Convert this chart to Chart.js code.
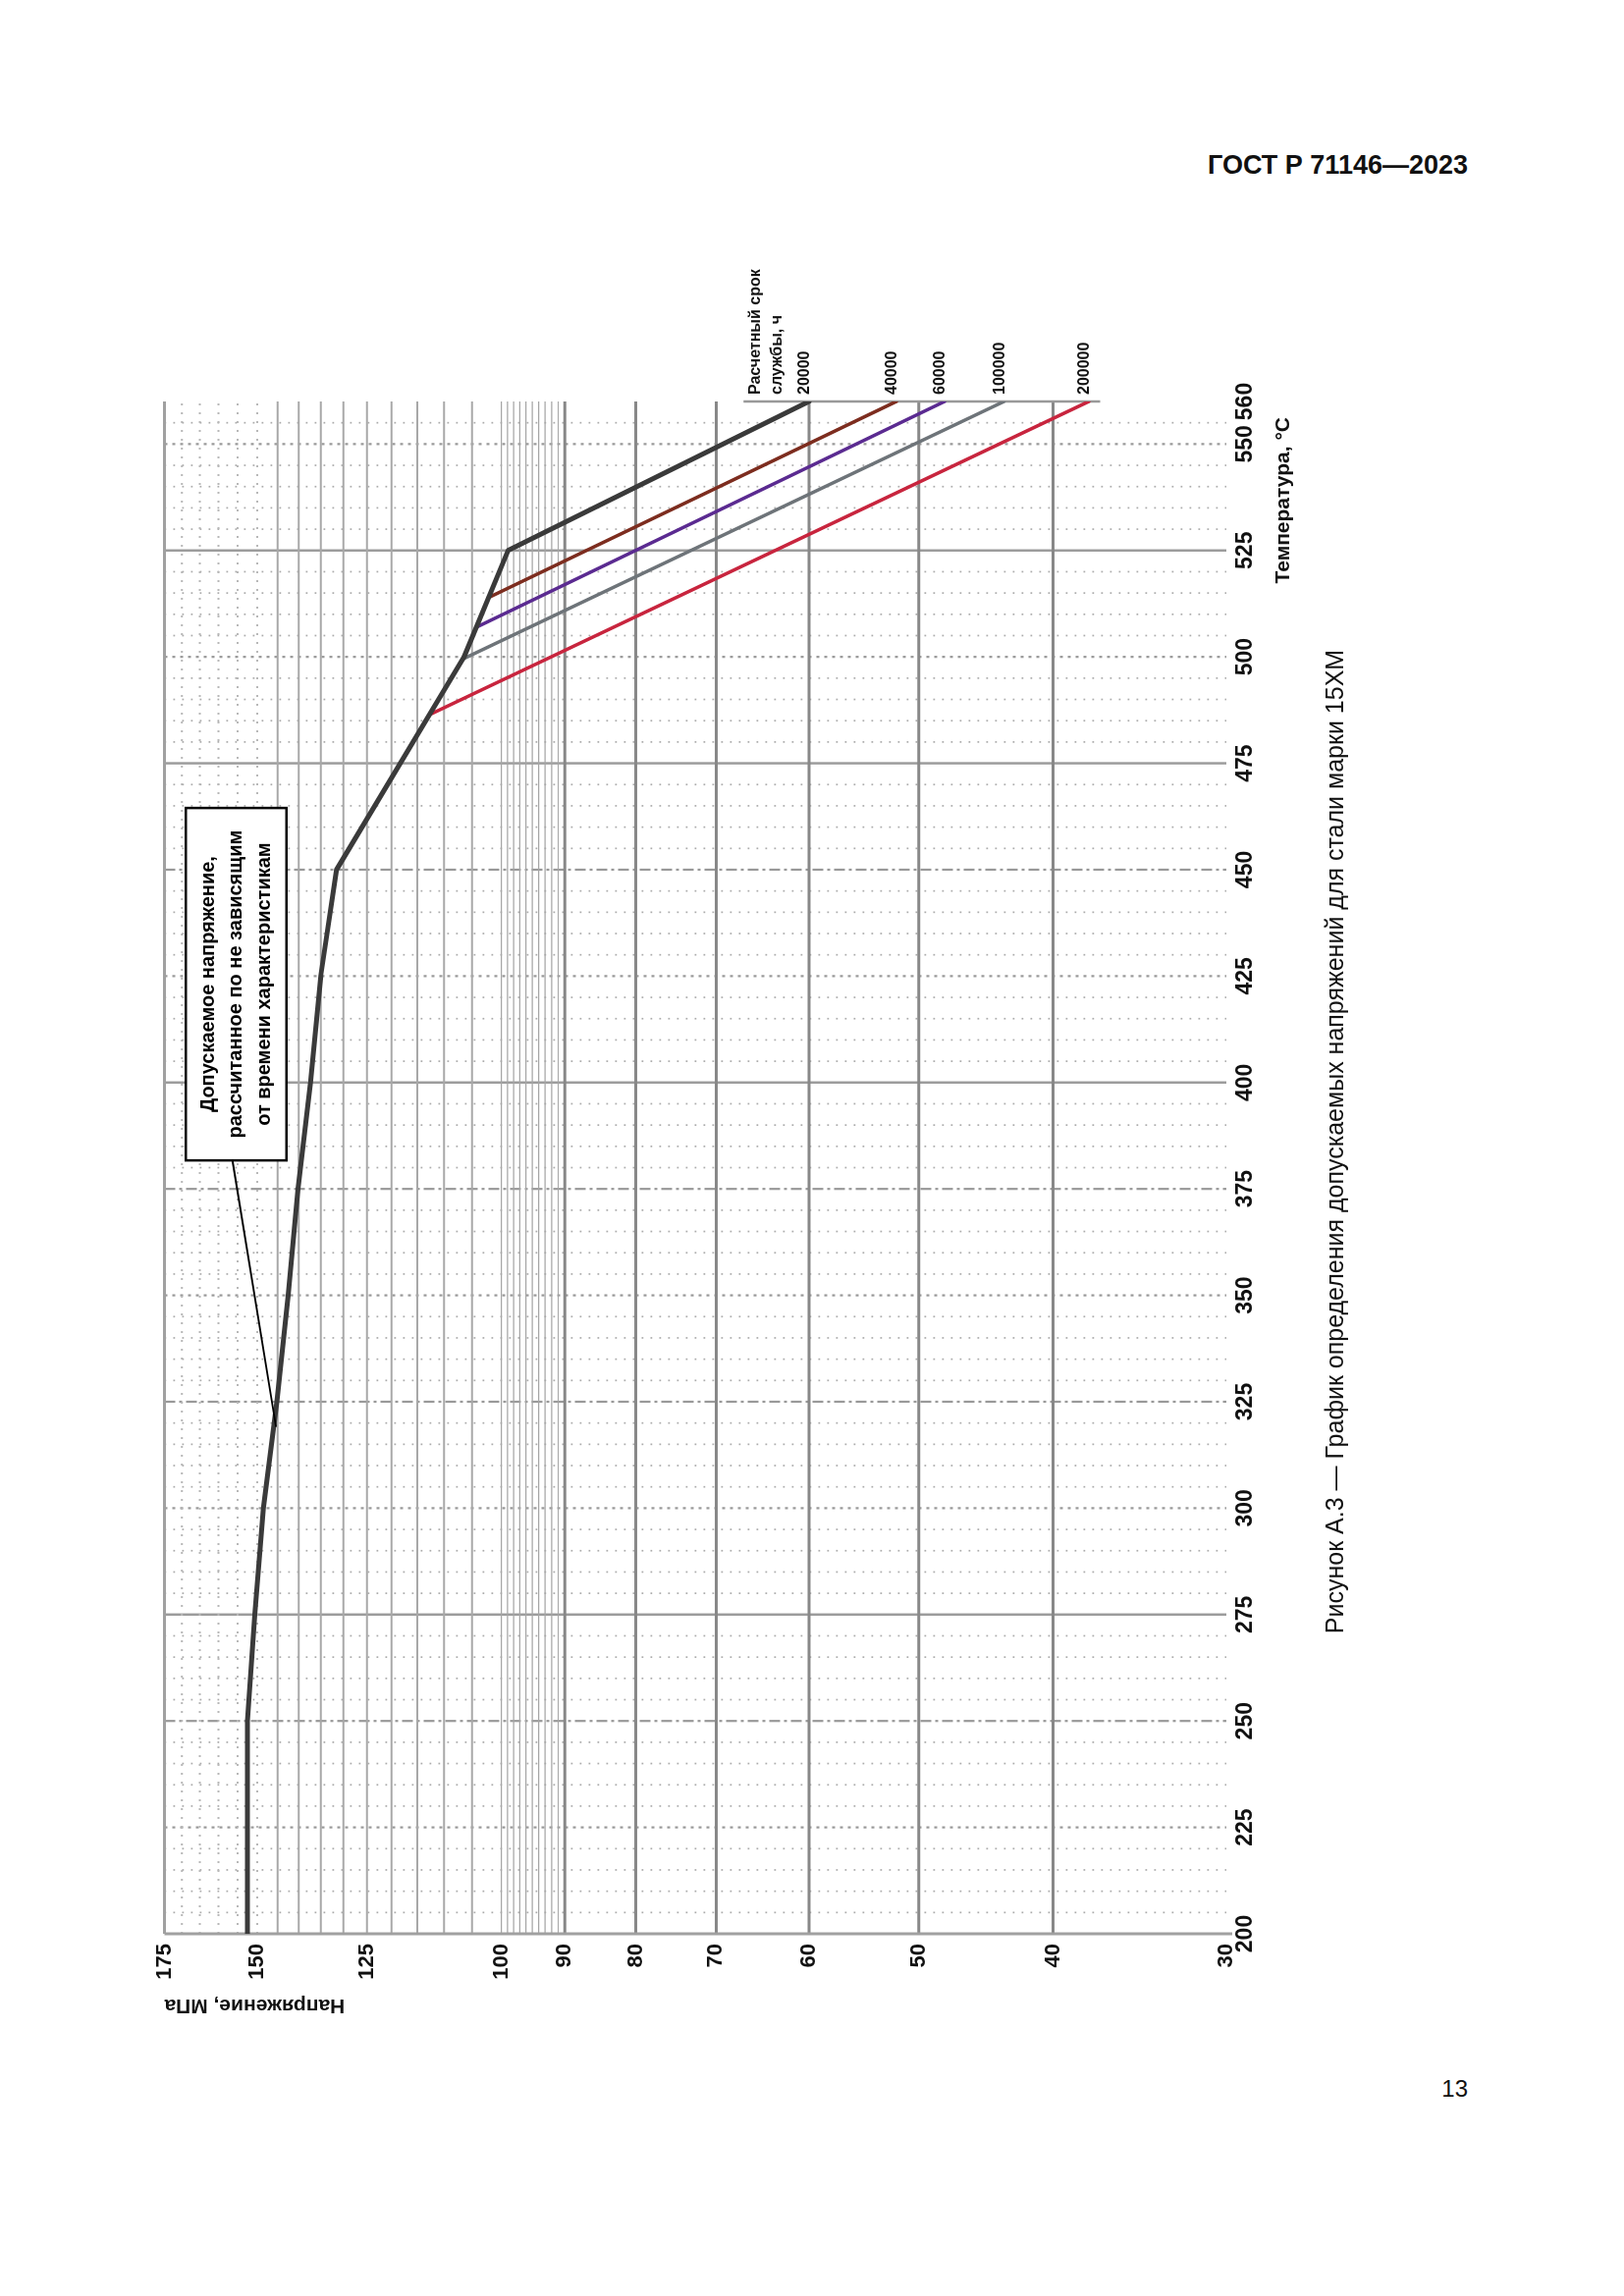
<!DOCTYPE html>
<html lang="ru">
<head>
<meta charset="utf-8">
<title>ГОСТ Р 71146—2023, Рисунок А.3</title>
<script src="https://cdn.jsdelivr.net/npm/chart.js@4.4.1/dist/chart.umd.min.js"></script>
<style>
html,body{margin:0;padding:0;background:#fff;}
body{position:relative;width:1654px;height:2339px;overflow:hidden;font-family:"Liberation Sans",Arial,Helvetica,sans-serif;color:#111;}
#hdr{position:absolute;right:159px;top:155px;font-size:27px;font-weight:bold;line-height:1;white-space:nowrap;}
#pg{position:absolute;right:159px;top:2116px;font-size:24px;line-height:1;}
#rot{position:absolute;left:100px;top:250px;width:1900px;height:1350px;transform-origin:0 0;transform:translate(0,1900px) rotate(-90deg);}
#rot canvas{position:absolute;left:0;top:0;}
#cap{position:absolute;left:987px;top:1259px;transform:translate(-50%,-50%);font-size:25px;white-space:nowrap;line-height:1;}
</style>
</head>
<body>
<div id="hdr">ГОСТ Р 71146—2023</div>
<div id="rot">
  <canvas id="chart" width="1900" height="1350" style="width:1900px;height:1350px"></canvas>
  <div id="cap">Рисунок А.3 — График определения допускаемых напряжений для стали марки 15ХМ</div>
</div>
<div id="pg">13</div>
<script>
// ---------- data ----------
const temperatureTicks = [200,225,250,275,300,325,350,375,400,425,450,475,500,525,550,560];
const stressTicks = [175,150,125,100,90,80,70,60,50,40,30];

// time-independent allowable stress, continuing into the 20000 h line
const allowableT = [200,250,275,300,325,350,375,400,425,450,500,525,560];
const allowableS = [152.5,152.5,150.6,148.5,145.2,142.5,140.2,137.3,135.0,131.5,106.4,98.9,60.0];
const life40000T = [513.9,560];
const life40000S = [102.2,51.9];
const life60000T = [507.0,560];
const life60000S = [104.2,47.9];
const life100000T = [499.5,560];
const life100000S = [106.6,43.4];
const life200000T = [486.4,560];
const life200000S = [112.7,37.7];
const lifeLabels = ['20000','40000','60000','100000','200000'];
const lifeHeading = ['Расчетный срок','службы, ч'];

const xTitle = 'Температура, °С';
const yTitle = 'Напряжение, МПа';
const boxLines = ['Допускаемое напряжение,','рассчитанное по не зависящим','от времени характеристикам'];

// ---------- styling ----------
const seriesT = [allowableT, life40000T, life60000T, life100000T, life200000T];
const seriesS = [allowableS, life40000S, life60000S, life100000S, life200000S];
const seriesColors = ['#3a3a3a','#7d2d1f','#5b2b91','#6e7479','#c8253e'];
const seriesWidths = [5,3.5,3.5,3.5,3.5];

const FONT = '"Liberation Sans", Arial, Helvetica, sans-serif';
Chart.defaults.font.family = FONT;
Chart.defaults.color = '#111';

// grid layout (paper grid)
const tempSolid = [275,400,475,525];
const tempDashDot = [250,325,375,450];
const tempHeavyDot = [225,300,350,425,500,550];
const stressDark = [90,80,70,60,50,40];
const stressMid = [145,140,135,130,125,120,115,110,105];
const stressDotted = [170,165,160,155,150];
const stressFine = [100,99,98,97,96,95,94,93,92,91];
const legendBarS = [66.9,37.0];
const boxT = [381.7,464.5];
const boxS = [142.9,168.9];
const leaderT = [381.7,319.1];
const leaderS = [156.3,145.4];

function seg(ctx,x1,y1,x2,y2,color,w,dash){
  ctx.save();
  ctx.strokeStyle=color; ctx.lineWidth=w; ctx.setLineDash(dash||[]);
  ctx.beginPath(); ctx.moveTo(x1,y1); ctx.lineTo(x2,y2); ctx.stroke();
  ctx.restore();
}

const paperGrid = {
  id:'paperGrid',
  beforeDatasetsDraw(chart){
    const {ctx, chartArea:a, scales:{x,y}} = chart;
    // minor temperature lines every 5 °C
    for(let t=205;t<560;t+=5){
      if(t%25===0) continue;
      const p=x.getPixelForValue(t);
      seg(ctx,p,a.top,p,a.bottom,'#ababab',1.7,[1.8,7.2]);
    }
    tempHeavyDot.forEach(t=>{const p=x.getPixelForValue(t);seg(ctx,p,a.top,p,a.bottom,'#999',2.2,[3,5]);});
    tempDashDot.forEach(t=>{const p=x.getPixelForValue(t);seg(ctx,p,a.top,p,a.bottom,'#999',2.2,[11,4,3,4]);});
    tempSolid.forEach(t=>{const p=x.getPixelForValue(t);seg(ctx,p,a.top,p,a.bottom,'#9c9c9c',2.5);});
    // stress lines
    stressDotted.forEach(s=>{const p=y.getPixelForValue(s);seg(ctx,a.left,p,a.right,p,'#b8b8b8',2,[2,7]);});
    stressFine.forEach(s=>{const p=y.getPixelForValue(s);seg(ctx,a.left,p,a.right,p,'#a6a6a6',1.2);});
    stressMid.forEach(s=>{const p=y.getPixelForValue(s);seg(ctx,a.left,p,a.right,p,'#a8a8a8',2);});
    stressDark.forEach(s=>{const p=y.getPixelForValue(s);seg(ctx,a.left,p,a.right,p,'#888',3);});
    // frame edges (175 MPa and 200 °C)
    const top=y.getPixelForValue(175);
    seg(ctx,a.left,top,a.right,top,'#a0a0a0',3);
    const l=x.getPixelForValue(200);
    seg(ctx,l,a.top,l,a.bottom+6,'#a0a0a0',3);
    // legend bar at the 560 °C end
    const r=x.getPixelForValue(560);
    seg(ctx,r,y.getPixelForValue(legendBarS[0]),r,y.getPixelForValue(legendBarS[1]),'#999',2.5);
  },
  afterDatasetsDraw(chart){
    const {ctx, chartArea:a, scales:{x,y}} = chart;
    // legend heading and line-end labels
    ctx.save();
    ctx.fillStyle='#111';
    ctx.textAlign='left'; ctx.textBaseline='middle';
    ctx.font='bold 16px '+FONT;
    ctx.fillText(lifeHeading[0], a.right+7, y.getPixelForValue(65.6));
    ctx.fillText(lifeHeading[1], a.right+7, y.getPixelForValue(63.3));
    seriesS.forEach((ss,i)=>{
      const last=ss[ss.length-1];
      ctx.fillText(lifeLabels[i], a.right+7, y.getPixelForValue(last)-4);
    });
    // temperature axis title, set slightly in from the axis end
    ctx.textAlign='right';
    ctx.font='bold 21px '+FONT;
    ctx.fillText(xTitle, a.right-16, a.bottom+58);
    ctx.restore();
    // annotation box
    const x1=x.getPixelForValue(boxT[0]), x2=x.getPixelForValue(boxT[1]);
    const y1=y.getPixelForValue(boxS[1]), y2=y.getPixelForValue(boxS[0]);
    ctx.save();
    ctx.fillStyle='#fff';
    ctx.fillRect(x1,y1,x2-x1,y2-y1);
    ctx.strokeStyle='#000'; ctx.lineWidth=2.5;
    ctx.strokeRect(x1,y1,x2-x1,y2-y1);
    ctx.fillStyle='#000';
    ctx.font='bold 20px '+FONT;
    ctx.textAlign='center'; ctx.textBaseline='middle';
    const cx=(x1+x2)/2, cy=(y1+y2)/2;
    boxLines.forEach((t,i)=>ctx.fillText(t,cx,cy+(i-1)*28.5));
    ctx.restore();
    // leader line
    seg(ctx,x.getPixelForValue(leaderT[0]),y.getPixelForValue(leaderS[0]),
            x.getPixelForValue(leaderT[1]),y.getPixelForValue(leaderS[1]),'#000',2);
  }
};

const datasets = seriesT.map((ts,i)=>({
  label: lifeLabels[i],
  data: ts.map((t,k)=>({x:t,y:seriesS[i][k]})),
  showLine:true,
  borderColor: seriesColors[i],
  backgroundColor: seriesColors[i],
  borderWidth: seriesWidths[i],
  pointRadius:0,
  tension:0,
  borderJoinStyle:'round',
  borderCapStyle:'round'
}));

new Chart(document.getElementById('chart'),{
  type:'scatter',
  data:{datasets},
  plugins:[paperGrid],
  options:{
    responsive:false,
    animation:false,
    layout:{padding:{left:80,right:159,top:67.5,bottom:111}},
    plugins:{legend:{display:false},tooltip:{enabled:false}},
    scales:{
      x:{
        type:'linear', position:'bottom', min:200, max:560,
        grid:{display:false,drawTicks:false}, border:{display:false},
        afterBuildTicks:(s)=>{s.ticks=temperatureTicks.map(v=>({value:v}));},
        afterFit:(s)=>{s.height=90;},
        ticks:{autoSkip:false,maxRotation:0,minRotation:0,padding:6,
               font:{size:23,weight:'bold'},color:'#111',callback:(v)=>String(v)},
        title:{display:false,text:xTitle}
      },
      y:{
        type:'logarithmic', position:'left', min:30, max:175,
        grid:{display:false,drawTicks:false}, border:{display:false},
        afterBuildTicks:(s)=>{s.ticks=stressTicks.map(v=>({value:v}));},
        afterFit:(s)=>{s.width=100;},
        ticks:{autoSkip:false,padding:10,font:{size:22,weight:'bold'},color:'#111',
               callback:(v)=>String(v)},
        title:{display:true,text:yTitle,align:'end',
               font:{size:21,weight:'bold'},color:'#111',padding:{top:15,bottom:0}}
      }
    }
  }
});
</script>
</body>
</html>
